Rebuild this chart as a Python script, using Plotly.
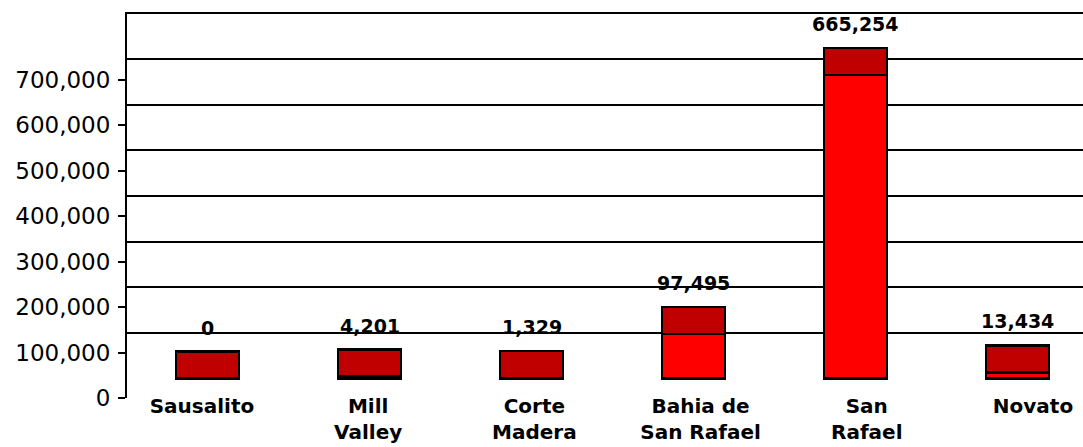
import plotly.graph_objects as go

# ---- data ----
CATEGORIES = ["Sausalito", "Mill<br>Valley", "Corte<br>Madera",
              "Bahia de<br>San Rafael", "San<br>Rafael", "Novato"]
VALUES = [0, 4201, 1329, 97495, 665254, 13434]
Y_TICKS = [0, 100000, 200000, 300000, 400000, 500000, 600000, 700000]
GRID_LINES = [100000, 200000, 300000, 400000, 500000, 600000, 700000, 800000]

# ---- style constants ----
TOP_FACE = 59000          # visible depth of the 3-D column top (in value units)
BRIGHT = "#FF0000"
DARK = "#C00000"
FONT = "DejaVu Sans"
LABEL_GAP = 11

fig = go.Figure()

# front face of each column
fig.add_trace(go.Bar(
    x=CATEGORIES, y=VALUES, xaxis="x", yaxis="y",
    marker=dict(color=BRIGHT, line=dict(color="black", width=2.5)),
    width=0.39, hoverinfo="skip",
))
# top face of each column (darker)
fig.add_trace(go.Bar(
    x=CATEGORIES, y=[TOP_FACE] * len(CATEGORIES), xaxis="x", yaxis="y",
    marker=dict(color=DARK, line=dict(color="black", width=2.5)),
    width=0.39, hoverinfo="skip",
))
# invisible trace that carries the label axes
fig.add_trace(go.Scatter(
    x=CATEGORIES, y=Y_TICKS[:len(CATEGORIES)], xaxis="x2", yaxis="y2",
    mode="markers", marker=dict(opacity=0), hoverinfo="skip",
))

annotations = []
for cat, v in zip(CATEGORIES, VALUES):
    annotations.append(dict(
        x=cat, y=v + TOP_FACE, xref="x", yref="y",
        text=f"{v:,}", showarrow=False, yanchor="bottom", yshift=LABEL_GAP,
        font=dict(family=FONT, size=19, color="black", weight="bold"),
    ))

fig.update_layout(
    width=1083, height=447,
    margin=dict(l=127, r=0, t=12, b=49, autoexpand=False),
    paper_bgcolor="white", plot_bgcolor="white",
    showlegend=False, barmode="stack",
    annotations=annotations,
    xaxis=dict(
        type="category", categoryarray=CATEGORIES, categoryorder="array",
        range=[-0.497, 5.404], showticklabels=False, showgrid=False,
        zeroline=False, showline=False, ticks="", automargin=False,
    ),
    yaxis=dict(
        range=[-42670, 802800], tickvals=GRID_LINES,
        showticklabels=False, ticks="",
        showgrid=True, gridcolor="black", gridwidth=2,
        zeroline=False, showline=False, automargin=False,
    ),
    xaxis2=dict(
        type="category", categoryarray=CATEGORIES, categoryorder="array",
        overlaying="x", anchor="free", position=0.016, side="bottom",
        range=[-0.451, 5.301], showgrid=False, zeroline=False,
        showline=False, ticks="", automargin=False,
        tickfont=dict(family=FONT, size=20, color="black", weight="bold"),
    ),
    yaxis2=dict(
        overlaying="y", anchor="x", side="left",
        range=[0, 849660], tickvals=Y_TICKS, tickformat=",d",
        showgrid=False, zeroline=False,
        showline=True, linecolor="black", linewidth=2,
        ticks="outside", ticklen=7, tickwidth=2, tickcolor="black",
        tickfont=dict(family=FONT, size=23, color="black"),
        automargin=False, ticklabelstandoff=3,
    ),
)

fig.write_html(
    "out.html",
    config={"displayModeBar": False},
    post_script="document.body.style.margin='0';document.body.style.overflow='hidden';",
)
